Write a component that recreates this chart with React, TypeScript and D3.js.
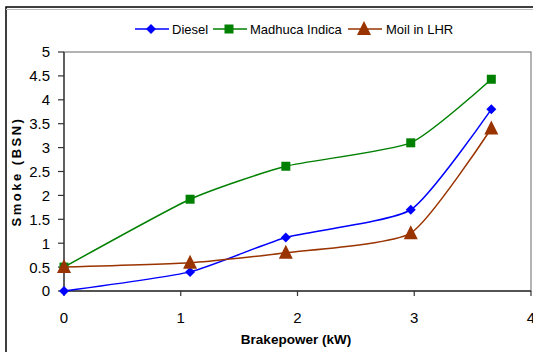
import React from "react";
import * as d3 from "d3";

const xValues = [0, 1.08, 1.9, 2.97, 3.66];
const diesel = [0, 0.4, 1.12, 1.7, 3.8];
const madhuca = [0.5, 1.92, 2.61, 3.1, 4.43];
const moil = [0.5, 0.59, 0.8, 1.21, 3.4];
const xTicks = [0, 1, 2, 3, 4];
const yTicks = [0, 0.5, 1, 1.5, 2, 2.5, 3, 3.5, 4, 4.5, 5];
const seriesNames = ["Diesel", "Madhuca Indica", "Moil in LHR"];

const W = 533;
const H = 352;
const m = { left: 64, right: 531, top: 52, bottom: 291 };

export default function App() {
  const x = d3.scaleLinear().domain([0, 4]).range([m.left, m.right]);
  const y = d3.scaleLinear().domain([0, 5]).range([m.bottom, m.top]);
  const line = d3
    .line<[number, number]>()
    .x((d) => x(d[0]))
    .y((d) => y(d[1]))
    .curve(d3.curveCardinal.tension(0.45));

  const series = [
    { name: seriesNames[0], vals: diesel, color: "#0000FF", marker: "diamond" },
    { name: seriesNames[1], vals: madhuca, color: "#008000", marker: "square" },
    { name: seriesNames[2], vals: moil, color: "#993300", marker: "triangle" },
  ];

  const marker = (type: string, cx: number, cy: number, color: string, key: string) => {
    if (type === "diamond") {
      const s = 5;
      return <path key={key} d={`M${cx},${cy - s}L${cx + s},${cy}L${cx},${cy + s}L${cx - s},${cy}Z`} fill={color} />;
    }
    if (type === "square") {
      const s = 4.5;
      return <rect key={key} x={cx - s} y={cy - s} width={2 * s} height={2 * s} fill={color} />;
    }
    const s = 7;
    return <path key={key} d={`M${cx},${cy - s - 1}L${cx + s},${cy + s - 1}L${cx - s},${cy + s - 1}Z`} fill={color} />;
  };

  const legendItems = [
    { lx: 135, tx: 172 },
    { lx: 213, tx: 250 },
    { lx: 348, tx: 386 },
  ];
  const ly = 29;

  return (
    <svg width={W} height={H} style={{ position: "absolute", left: 0, top: 0, background: "#fff" }}>
      <rect x={6} y={7} width={560} height={400} fill="none" stroke="#000" strokeWidth={1.5} />
      <line x1={6} y1={9.5} x2={533} y2={9.5} stroke="#bbb" strokeWidth={1} />
      <rect x={m.left} y={m.top} width={m.right - m.left} height={m.bottom - m.top} fill="none" stroke="#808080" strokeWidth={1.2} />
      <line x1={m.left} y1={m.top} x2={m.left} y2={m.bottom} stroke="#333" strokeWidth={1.3} />
      <line x1={m.left} y1={m.bottom} x2={m.right} y2={m.bottom} stroke="#333" strokeWidth={1.3} />
      {yTicks.map((t) => (
        <g key={"y" + t}>
          <line x1={m.left - 6} x2={m.left} y1={y(t)} y2={y(t)} stroke="#333" strokeWidth={1.2} />
          <text x={50} y={y(t)} dy="0.36em" textAnchor="end" fontFamily="Liberation Sans, Arial, sans-serif" fontSize={15} fill="#000">
            {t}
          </text>
        </g>
      ))}
      {xTicks.map((t) => (
        <g key={"x" + t}>
          <line x1={x(t)} x2={x(t)} y1={m.bottom} y2={m.bottom + 5} stroke="#333" strokeWidth={1.2} />
          <text x={x(t)} y={323} textAnchor="middle" fontFamily="Liberation Sans, Arial, sans-serif" fontSize={15} fill="#000">
            {t}
          </text>
        </g>
      ))}
      <text x={296} y={344} textAnchor="middle" fontFamily="Liberation Sans, Arial, sans-serif" fontSize={13.5} fontWeight="bold" fill="#000">
        Brakepower (kW)
      </text>
      <text
        transform={`translate(21,${(m.top + m.bottom) / 2}) rotate(-90)`}
        textAnchor="middle"
        fontFamily="Liberation Sans, Arial, sans-serif"
        fontSize={13}
        fontWeight="bold"
        letterSpacing={2.5}
        fill="#000"
      >
        Smoke (BSN)
      </text>
      {series.map((s) => (
        <g key={s.name}>
          <path d={line(xValues.map((xv, i) => [xv, s.vals[i]] as [number, number])) || ""} fill="none" stroke={s.color} strokeWidth={1.5} />
          {xValues.map((xv, i) => marker(s.marker, x(xv), y(s.vals[i]), s.color, s.name + i))}
        </g>
      ))}
      {series.map((s, i) => (
        <g key={"lg" + s.name}>
          <line x1={legendItems[i].lx} x2={legendItems[i].lx + 34} y1={ly} y2={ly} stroke={s.color} strokeWidth={1.5} />
          {marker(s.marker, legendItems[i].lx + 16, ly, s.color, "lm" + i)}
          <text x={legendItems[i].tx} y={ly} dy="0.36em" fontFamily="Liberation Sans, Arial, sans-serif" fontSize={13} fill="#000">
            {s.name}
          </text>
        </g>
      ))}
    </svg>
  );
}
